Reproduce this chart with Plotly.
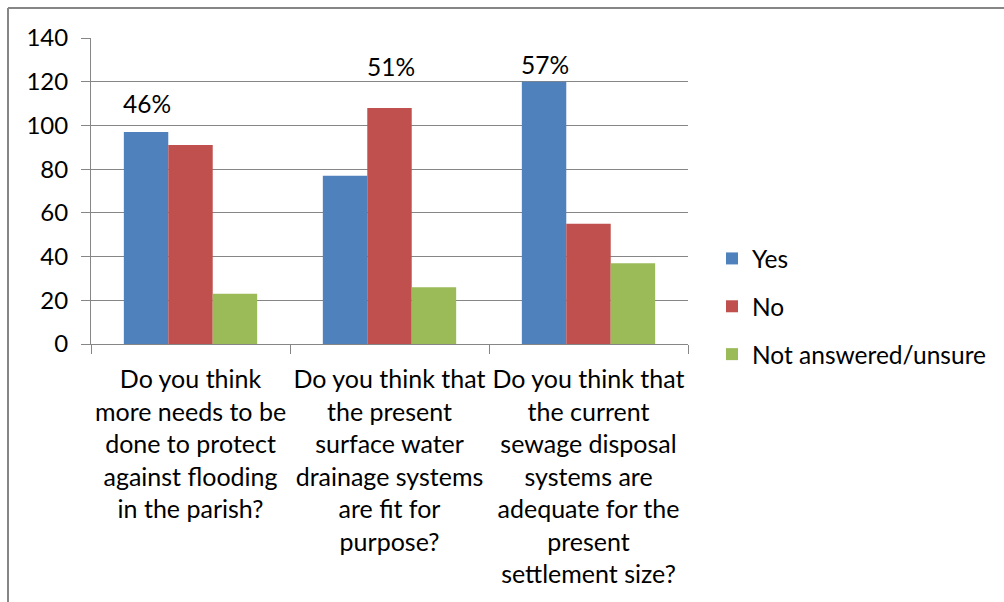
import plotly.graph_objects as go

# Survey questions (category labels, wrapped as displayed)
questions = [
    "Do you think<br>more needs to be<br>done to protect<br>against flooding<br>in the parish?",
    "Do you think that<br>the present<br>surface water<br>drainage systems<br>are fit for<br>purpose?",
    "Do you think that<br>the current<br>sewage disposal<br>systems are<br>adequate for the<br>present<br>settlement size?",
]
series_names = ["Yes", "No", "Not answered/unsure"]
yes_counts = [97, 77, 120]
no_counts = [91, 108, 55]
unsure_counts = [23, 26, 37]
y_ticks = [0, 20, 40, 60, 80, 100, 120, 140]

colors = ["#4F81BD", "#C0504D", "#9BBB59"]
FONT = "Lato, Carlito, Calibri, sans-serif"
GRID = "#868686"

W, H = 1004, 602
ML, MR, MT, MB = 91, 316, 38, 258
BARGAP = 0.33

series = [yes_counts, no_counts, unsure_counts]

fig = go.Figure()
for name, vals, col in zip(series_names, series, colors):
    fig.add_trace(go.Bar(
        x=questions, y=vals, name=name, marker=dict(color=col, line=dict(width=0)),
        legendgroup=name,
    ))

# Percentage of the leading answer above each question's tallest bar
plot_w = W - ML - MR
cat_px = plot_w / len(questions)
bar_px = cat_px * (1 - BARGAP) / len(series)
label_y = [110, 127, 128]
for i, q in enumerate(questions):
    vals = [s[i] for s in series]
    k = max(range(len(vals)), key=lambda j: vals[j])
    pct = round(100 * vals[k] / sum(vals))
    fig.add_annotation(
        x=q, y=label_y[i], xref="x", yref="y", text=f"{pct}%", showarrow=False,
        xshift=(k - 1) * bar_px + 1, font=dict(family=FONT, size=24.5, color="#000000"),
    )

# Outer chart frame (top and left edges)
def px_to_paper_x(px):
    return (px - ML) / plot_w

def py_to_paper_y(py):
    return (H - MB - py) / (H - MT - MB)

fig.add_shape(type="line", xref="paper", yref="paper",
              x0=px_to_paper_x(8), x1=px_to_paper_x(1010),
              y0=py_to_paper_y(8), y1=py_to_paper_y(8),
              line=dict(color=GRID, width=2))
fig.add_shape(type="line", xref="paper", yref="paper",
              x0=px_to_paper_x(8), x1=px_to_paper_x(8),
              y0=py_to_paper_y(8), y1=py_to_paper_y(610),
              line=dict(color=GRID, width=2))

fig.update_layout(
    width=W, height=H,
    margin=dict(l=ML, r=MR, t=MT, b=MB, pad=0, autoexpand=False),
    paper_bgcolor="white", plot_bgcolor="white",
    barmode="group", bargap=BARGAP, bargroupgap=0,
    font=dict(family=FONT, size=24, color="#000000"),
    showlegend=True,
    legend=dict(
        x=px_to_paper_x(712), y=py_to_paper_y(236), xanchor="left", yanchor="top",
        traceorder="grouped", tracegroupgap=13,
        font=dict(family=FONT, size=24.5, color="#000000"),
        bgcolor="rgba(0,0,0,0)",
    ),
    xaxis=dict(
        type="category", tickson="boundaries", ticks="outside", ticklen=9,
        tickcolor=GRID, showline=True, linecolor=GRID, linewidth=1,
        showgrid=False, ticklabelstandoff=13, tickangle=0, automargin=False,
        tickfont=dict(family=FONT, size=25, color="#000000"),
    ),
    yaxis=dict(
        range=[0, 140], tickvals=y_ticks, ticks="outside", ticklen=9,
        tickcolor=GRID, showline=True, linecolor=GRID, linewidth=1,
        showgrid=True, gridcolor=GRID, gridwidth=1, zeroline=False,
        ticklabelstandoff=8, automargin=False,
        tickfont=dict(family=FONT, size=24, color="#000000"),
    ),
)

fig.write_html("out.html")
